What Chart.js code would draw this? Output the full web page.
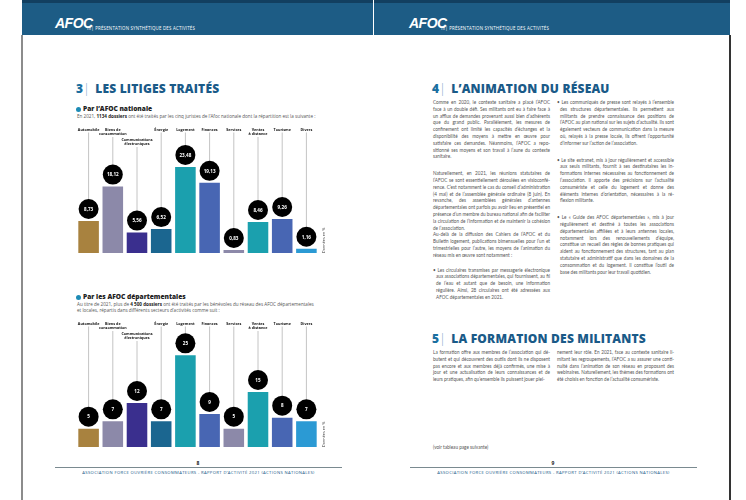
<!DOCTYPE html>
<html lang="fr">
<head>
<meta charset="utf-8">
<script src="https://cdn.jsdelivr.net/npm/chart.js@4/dist/chart.umd.min.js"></script>
<style>
  body { margin: 0; width: 746px; height: 500px; position: relative; overflow: hidden; background: #fff; font-family: "Open Sans", sans-serif; }
  .abs { position: absolute; }
  .band { top: 0; height: 35px; background: #1d5c85; border-top: 3px solid #123f60; box-sizing: border-box; }
  .logo { color: #fff; font-family: "Liberation Sans", sans-serif; font-weight: bold; font-style: italic; font-size: 14px; line-height: 16px; letter-spacing: -0.5px; top: 15px; }
  .sect { color: #fff; font-size: 4.4px; line-height: 5px; top: 26px; letter-spacing: 0.2px; }
  .h2 { color: #1a5a88; font-weight: 800; font-size: 12px; line-height: 14px; letter-spacing: 0.2px; }
  .h2 .n { color: #1a6fa0; }
  .h2 .bar { font-weight: 300; color: #6fa8c8; margin: 0 2px 0 0; }
  .h3 { font-weight: 800; font-size: 6.6px; line-height: 7px; color: #222; }
  .h3 .dot { display: inline-block; width: 5px; height: 5px; border-radius: 50%; background: #1d8bb5; margin-right: 2px; vertical-align: -0.5px; }
  .desc { font-size: 4.6px; color: #555; line-height: 6.5px; }
  .desc b { color: #222; }
  .col { font-family: Lato, sans-serif; font-size: 4.65px; line-height: 6.8px; color: #555; text-align: justify; width: 117px; }
  .col p { margin: 0 0 10px 0; }
  .col p.tight { margin: 0; }
  .col p.b { padding-left: 3px; text-indent: -3px; }
  .foot { font-size: 4.2px; line-height: 5px; color: #1a5a88; letter-spacing: 0.35px; text-align: center; }
  .line { height: 1px; background: #7a8a90; }
  .pn { font-size: 5px; line-height: 6px; font-weight: bold; color: #222; text-align: center; width: 10px; }
</style>
</head>
<body>
<!-- header bands -->
<div class="abs band" style="left:22px;width:351px;"></div>
<div class="abs band" style="left:374px;width:356px;"></div>
<div class="abs" style="left:21px;top:35px;width:2px;height:465px;background:#8c8c8c;"></div>
<div class="abs" style="left:729px;top:35px;width:2px;height:465px;background:#333;"></div>

<div class="abs logo" style="left:55px;">AFOC</div>
<div class="abs sect" style="left:87px;">III| PRÉSENTATION SYNTHÉTIQUE DES ACTIVITÉS</div>
<div class="abs logo" style="left:409px;">AFOC</div>
<div class="abs sect" style="left:441px;">III| PRÉSENTATION SYNTHÉTIQUE DES ACTIVITÉS</div>

<!-- left page -->
<div class="abs h2" style="left:76px;top:82px;"><span class="n">3</span><span class="bar">|</span> LES LITIGES TRAITÉS</div>
<div class="abs h3" style="left:76px;top:105px;"><span class="dot"></span>Par l’AFOC nationale</div>
<div class="abs desc" style="left:77px;top:113px;">En 2021, <b>1134 dossiers</b> ont été traités par les cinq juristes de l’Afoc nationale dont la répartition est la suivante :</div>

<div class="abs" style="left:70px;top:120px;width:265px;height:138px;"><canvas id="chart1"></canvas></div>

<div class="abs h3" style="left:76px;top:293px;"><span class="dot"></span>Par les AFOC départementales</div>
<div class="abs desc" style="left:77px;top:300.5px;width:280px;">Au titre de 2021, plus de <b>4 500 dossiers</b> ont été traités par les bénévoles du réseau des AFOC départementales<br>et locales, répartis dans différents secteurs d’activités comme suit :</div>

<div class="abs" style="left:70px;top:314px;width:265px;height:138px;"><canvas id="chart2"></canvas></div>

<div class="abs line" style="left:55px;top:467px;width:287px;"></div>
<div class="abs pn" style="left:193px;top:460px;">8</div>
<div class="abs foot" style="left:55px;top:470px;width:287px;">ASSOCIATION FORCE OUVRIÈRE CONSOMMATEURS - RAPPORT D’ACTIVITÉ 2021 (ACTIONS NATIONALES)</div>

<!-- right page -->
<div class="abs h2" style="left:432px;top:82px;"><span class="n">4</span><span class="bar">|</span> L’ANIMATION DU RÉSEAU</div>

<div class="abs col" style="left:433px;top:99px;">
  <p>Comme en 2020, le contexte sanitaire a placé l’AFOC face à un double défi. Ses militants ont eu à faire face à un afflux de demandes provenant aussi bien d’adhé&shy;rents que du grand public. Parallèlement, les mesures de confinement ont limité les capacités d’échanges et la disponibilité des moyens à mettre en œuvre pour satisfaire ces demandes. Néanmoins, l’AFOC a repo&shy;sitionné ses moyens et son travail à l’aune du contexte sanitaire.</p>
  <p class="tight">Naturellement, en 2021, les réunions statutaires de l’AFOC se sont essentiellement déroulées en visioconfé&shy;rence. C’est notamment le cas du conseil d’administra&shy;tion (4 mai) et de l’assemblée générale ordinaire (8 juin). En revanche, des assemblées générales d’antennes départementales ont parfois pu avoir lieu en présentiel en présence d’un membre du bureau national afin de faciliter la circulation de l’information et de maintenir la cohésion de l’association.</p>
  <p style="margin-bottom:8px">Au-delà de la diffusion des Cahiers de l’AFOC et du Bulletin logement, publications bimensuelles pour l’un et trimestrielles pour l’autre, les moyens de l’animation du réseau mis en œuvre sont notamment :</p>
  <p class="b">• Les circulaires transmises par messagerie électro&shy;nique aux associations départementales, qui four&shy;nissent, au fil de l’eau et autant que de besoin, une information régulière. Ainsi, 28 circulaires ont été adressées aux AFOC départementales en 2021.</p>
</div>

<div class="abs col" style="left:557px;top:99px;">
  <p class="b">• Les communiqués de presse sont relayés à l’ensemble des structures départementales. Ils permettent aux militants de prendre connaissance des positions de l’AFOC au plan national sur les sujets d’actualité. Ils sont également vecteurs de communication dans la mesure où, relayés à la presse locale, ils offrent l’op&shy;portunité d’informer sur l’action de l’association.</p>
  <p class="b">• Le site extranet, mis à jour régulièrement et accessible aux seuls militants, fournit à ses destinataires les in&shy;formations internes nécessaires au fonctionnement de l’association. Il apporte des précisions sur l’actua&shy;lité consumériste et celle du logement et donne des éléments internes d’orientation, nécessaires à la ré&shy;flexion militante.</p>
  <p class="b">• Le « Guide des AFOC départementales », mis à jour régulièrement et destiné à toutes les associations départementales affiliées et à leurs antennes locales, notamment lors des renouvellements d’équipe, constitue un recueil des règles de bonnes pratiques qui aident au fonctionnement des structures, tant au plan statutaire et administratif que dans les do&shy;maines de la consommation et du logement. Il constitue l’outil de base des militants pour leur travail quotidien.</p>
</div>

<div class="abs h2" style="left:432px;top:332px;"><span class="n">5</span><span class="bar">|</span> LA FORMATION DES MILITANTS</div>
<div class="abs col" style="left:433px;top:349px;">La formation offre aux membres de l’association qui dé&shy;butent et qui découvrent des outils dont ils ne disposent pas encore et aux membres déjà confirmés, une mise à jour et une actualisation de leurs connaissances et de leurs pratiques, afin qu’ensemble ils puissent jouer plei-</div>
<div class="abs col" style="left:557px;top:349px;">nement leur rôle. En 2021, face au contexte sanitaire li&shy;mitant les regroupements, l’AFOC a su assurer une conti&shy;nuité dans l’animation de son réseau en proposant des webinaires. Naturellement, les thèmes des formations ont été choisis en fonction de l’actualité consumériste.</div>
<div class="abs col" style="left:433px;top:444px;">(voir tableau page suivante)</div>

<div class="abs line" style="left:410px;top:467px;width:287px;"></div>
<div class="abs pn" style="left:548px;top:460px;">9</div>
<div class="abs foot" style="left:410px;top:470px;width:287px;">ASSOCIATION FORCE OUVRIÈRE CONSOMMATEURS - RAPPORT D’ACTIVITÉ 2021 (ACTIONS NATIONALES)</div>

<script>
const categories = [
  ['Automobile'],
  ['Biens de', 'consommation'],
  ['Communications', 'électroniques'],
  ['Énergie'],
  ['Logement'],
  ['Finances'],
  ['Services'],
  ['Ventes', 'à distance'],
  ['Tourisme'],
  ['Divers']
];
const nationalShare = [8.73, 18.12, 5.56, 6.52, 23.48, 19.13, 0.83, 8.46, 9.26, 1.16];
const departementalShare = [5, 7, 12, 7, 25, 9, 5, 15, 8, 7];
const barColors = ['#a8823f', '#8c89a9', '#3a2f8e', '#1b6690', '#1ba0ae', '#4866b3', '#8c89a9', '#1ba0ae', '#4866b3', '#2b9ad4'];

const fmt = v => String(v).replace('.', ',');

// labels on top, leader lines and black value circles
const bubblePlugin = {
  id: 'bubbles',
  afterDatasetsDraw(chart) {
    const ctx = chart.ctx;
    const meta = chart.getDatasetMeta(0);
    const area = chart.chartArea;
    const values = chart.data.datasets[0].data;
    ctx.save();
    meta.data.forEach((bar, i) => {
      const lines = chart.data.labels[i];
      const drop = i === 2 ? 10 : 0;
      const top = area.top - 13.5 + drop;
      ctx.fillStyle = '#111';
      ctx.font = 'bold 3.7px "Open Sans"';
      ctx.textAlign = 'center';
      ctx.textBaseline = 'middle';
      lines.forEach((t, k) => ctx.fillText(t, bar.x, top + k * 4.5));
      const cy = bar.y - 12;
      ctx.strokeStyle = '#c4c4c4';
      ctx.lineWidth = 1;
      ctx.beginPath();
      ctx.moveTo(bar.x, top + (lines.length - 1) * 4.5 + 3);
      ctx.lineTo(bar.x, cy - 9);
      ctx.stroke();
      ctx.fillStyle = '#000';
      ctx.beginPath();
      ctx.arc(bar.x, cy, 10, 0, Math.PI * 2);
      ctx.fill();
      ctx.fillStyle = '#fff';
      ctx.font = 'bold 4.6px "Open Sans"';
      ctx.fillText(fmt(values[i]), bar.x, cy + 0.5);
    });
    // "Données en %" rotated at the right
    ctx.translate(area.right + 5, area.bottom);
    ctx.rotate(-Math.PI / 2);
    ctx.fillStyle = '#333';
    ctx.font = '3.8px "Open Sans"';
    ctx.textAlign = 'left';
    ctx.fillText('Données en %', 0, 0);
    ctx.restore();
  }
};

function drawChart(id, values) {
  new Chart(document.getElementById(id), {
    type: 'bar',
    data: {
      labels: categories,
      datasets: [{
        data: values,
        backgroundColor: barColors,
        barPercentage: 0.85,
        categoryPercentage: 1
      }]
    },
    options: {
      responsive: true,
      maintainAspectRatio: false,
      animation: false,
      layout: { padding: { top: 23, bottom: 5, left: 6.5, right: 16.5 } },
      plugins: { legend: { display: false }, tooltip: { enabled: false } },
      scales: {
        x: { display: false },
        y: { display: false, min: 0, max: 30 }
      }
    },
    plugins: [bubblePlugin]
  });
}

drawChart('chart1', nationalShare);
drawChart('chart2', departementalShare);
</script>
</body>
</html>
